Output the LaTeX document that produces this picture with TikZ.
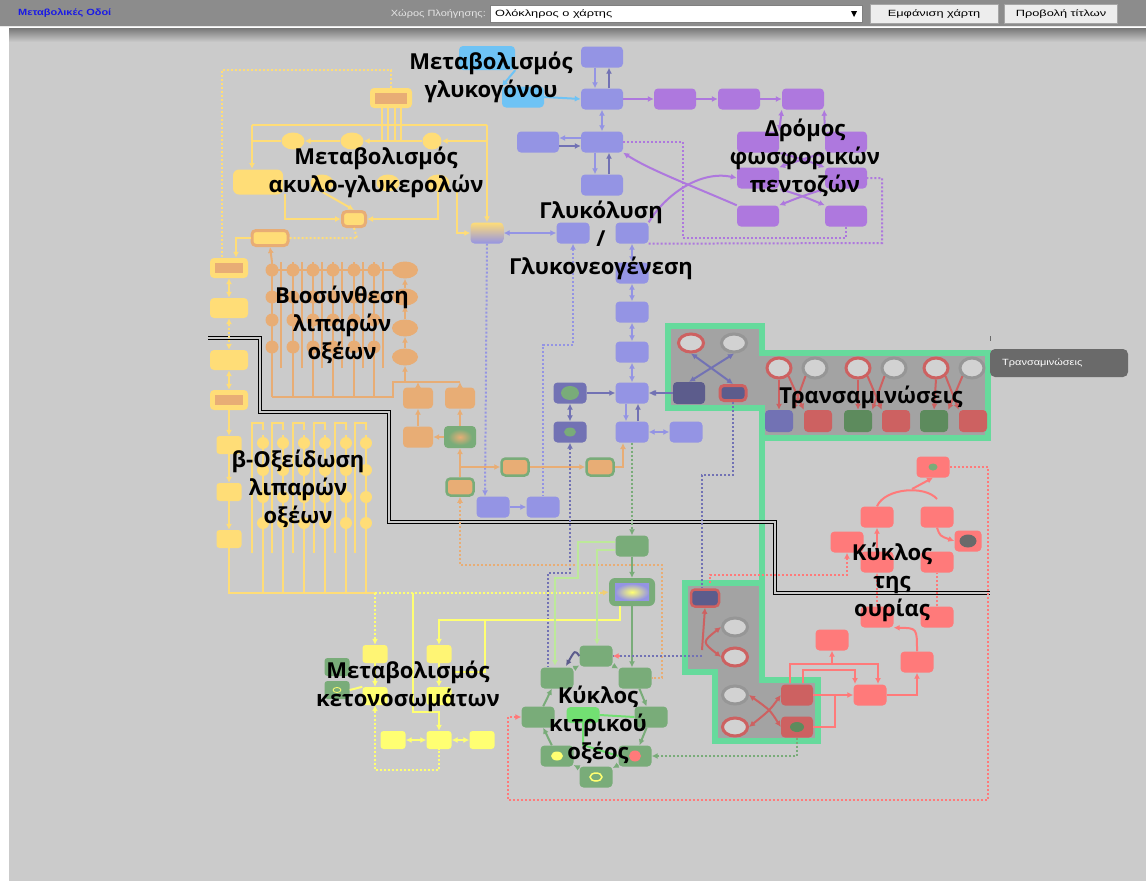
\documentclass[tikz,border=0pt]{standalone}
\usepackage{fontspec}
\setmainfont{Liberation Sans}
\newfontfamily\lblfont{Open Sans}
\newfontfamily\barfont{Liberation Sans}[FakeStretch=1.22]
\newfontfamily\btnfont{Liberation Sans}[FakeStretch=1.42]
\usetikzlibrary{arrows.meta,shapes.geometric}

\definecolor{bgray}{HTML}{CBCBCB}
\definecolor{barc}{HTML}{8C8C8C}
\definecolor{navc}{HTML}{1A1AE6}
\definecolor{gblue}{HTML}{9494E4}
\definecolor{dblue}{HTML}{7272B4}
\definecolor{nblue}{HTML}{5C5C8C}
\definecolor{purp}{HTML}{AE78DE}
\definecolor{skyc}{HTML}{6EC3F5}
\definecolor{fyel}{HTML}{FFDD77}
\definecolor{forg}{HTML}{E8AD75}
\definecolor{grn}{HTML}{79AC79}
\definecolor{lgrn}{HTML}{BDE99A}
\definecolor{brgrn}{HTML}{72E072}
\definecolor{redc}{HTML}{FF7A7A}
\definecolor{dred}{HTML}{CD6161}
\definecolor{kyel}{HTML}{FFFF72}
\definecolor{tgrn}{HTML}{66DA9C}
\definecolor{rgray}{HTML}{A3A3A3}
\definecolor{cgray}{HTML}{D2D2D2}
\definecolor{ringg}{HTML}{969696}
\definecolor{dgrn}{HTML}{5D8B5D}
\definecolor{tipc}{HTML}{6A6A6A}

\tikzset{
  box/.style={rounded corners=4pt, minimum width=42pt, minimum height=21pt, inner sep=0pt},
  sbox/.style={box, minimum width=33pt, minimum height=21pt},
  kbox/.style={box, minimum width=25pt, minimum height=18pt, rounded corners=3pt},
  ell/.style={ellipse, inner sep=0pt, minimum width=23pt, minimum height=17pt},
  dotc/.style={circle, inner sep=0pt, minimum size=13pt},
  ring/.style={ellipse, inner sep=0pt, minimum width=25pt, minimum height=18pt, fill=cgray, line width=3pt},
  wire/.style={line width=2pt},
  arr/.style={-{Latex[length=6pt,width=6pt]}},
  darr/.style={{Latex[length=6pt,width=6pt]}-{Latex[length=6pt,width=6pt]}},
  rarr/.style={{Latex[length=6pt,width=6pt]}-},
  dotline/.style={dash pattern=on 2pt off 2pt},
  lbl/.style={font=\lblfont\bfseries\fontsize{22}{28}\selectfont, align=center, text=black, inner sep=0pt},
  barfnt/.style={font=\barfont\fontsize{9}{10}\selectfont, inner sep=0pt},
  btnfnt/.style={font=\btnfont\fontsize{9}{10}\selectfont, inner sep=0pt},
}

\begin{document}
\begin{tikzpicture}[x=1pt,y=-1pt]
\useasboundingbox (0,0) rectangle (1146,881);

% background
\fill[white] (0,0) rectangle (1146,881);
\fill[bgray] (9,28) rectangle (1146,881);
\shade[top color=barc!85!black, bottom color=bgray] (9,28) rectangle (1146,42);
\fill[barc] (0,0) rectangle (1146,26);
\draw[white!80!barc, line width=1pt] (0,26.5) -- (1146,26.5);

% top bar
\node[barfnt, anchor=west, text=navc, font=\barfont\bfseries\fontsize{9}{10}\selectfont] (title) at (18,13) {Μεταβολικές Οδοί};
\node[barfnt, anchor=east, text=white!90!black] (navlbl) at (486,14) {Χώρος Πλοήγησης:};
\node[draw=gray, fill=white, minimum width=372pt, minimum height=17pt, inner sep=0pt] (sel) at (676,14) {};
\node[btnfnt, anchor=west] (selt) at (495,14) {Ολόκληρος ο χάρτης};
\fill[black] (851,11) -- (857,11) -- (854,17) -- cycle;
\node[btnfnt, draw=gray!70, fill=white!93!black, minimum width=128pt, minimum height=19pt] (btnmap) at (934,14) {Εμφάνιση χάρτη};
\node[btnfnt, draw=gray!70, fill=white!93!black, minimum width=113pt, minimum height=19pt] (btntit) at (1061,14) {Προβολή τίτλων};

% transaminase areas
\filldraw[fill=rgray, draw=tgrn, line width=6pt] (668,326) -- (762,326) -- (762,353) -- (988,353) -- (988,438) -- (762,438) -- (762,408) -- (668,408) -- cycle;
\draw[tgrn, line width=6pt] (762,438) -- (762,585);
\filldraw[fill=rgray, draw=tgrn, line width=6pt] (685,583) -- (762,583) -- (762,680) -- (818,680) -- (818,741) -- (715,741) -- (715,672) -- (685,672) -- cycle;

% black border line
\draw[black, double=bgray, double distance=1.6pt, line width=0.8pt] (208,338) -- (260,338) -- (260,412) -- (389,412) -- (389,522) -- (775,522) -- (775,593) -- (990,593);

% grids under the circles
\foreach \x in {272,293,313,333,354,374} {
  \draw[forg, wire] (\x,262) -- (\x,397);
  \draw[forg, wire] (\x+9,368) -- (\x+9,262);
}
\draw[forg, wire] (272,397) -- (393,397) -- (393,382) -- (460,382);
\draw[forg, wire] (272,270) -- (393,270);
\foreach \x in {263,283,304,325,346,366} {
  \draw[fyel, wire] (\x,435) -- (\x,593);
  \draw[fyel, wire] (\x-11,553) -- (\x-11,423) -- (\x,423) -- (\x,430);
}
\draw[fyel, wire] (229,548) -- (229,593) -- (375,593);

% glycogen
\node[box, fill=skyc, minimum width=56pt, minimum height=24pt] (gy1) at (487,58) {};
\node[box, fill=skyc, minimum width=42pt] (gy2) at (523,97) {};

% glycolysis
\node[box, fill=gblue] (b1) at (602,57) {};
\node[box, fill=gblue] (b2) at (602,99) {};
\node[box, fill=gblue] (b3) at (602,142) {};
\node[box, fill=gblue] (b4) at (602,185) {};
\node[box, fill=gblue] (b0) at (538,142) {};
\node[sbox, fill=gblue] (g1) at (573,233) {};
\node[sbox, fill=gblue] (g2) at (632,233) {};
\node[sbox, fill=gblue] (g3) at (632,273) {};
\node[sbox, fill=gblue] (g4) at (632,312) {};
\node[sbox, fill=gblue] (g5) at (632,352) {};
\node[sbox, fill=gblue] (g6) at (632,393) {};
\node[sbox, fill=gblue] (g7) at (632,432) {};
\node[sbox, fill=gblue] (g8) at (686,432) {};
\node[sbox, fill=dblue] (d1) at (570,393) {};
\node[ell, fill=grn, minimum width=18pt, minimum height=14pt] (d1in) at (d1) {};
\node[sbox, fill=dblue] (d2) at (570,432) {};
\node[ell, fill=grn, minimum width=12pt, minimum height=9pt] (d2in) at (d2) {};
\node[sbox, fill=gblue] (l1) at (493,507) {};
\node[sbox, fill=gblue] (l2) at (543,507) {};
\node[sbox, top color=fyel, bottom color=gblue] (mx) at (487,233) {};

% pentose phosphate
\node[box, fill=purp] (p1) at (675,99) {};
\node[box, fill=purp] (p2) at (739,99) {};
\node[box, fill=purp] (p3) at (803,99) {};
\node[box, fill=purp] (p4) at (758,142) {};
\node[box, fill=purp] (p5) at (846,142) {};
\node[box, fill=purp] (p6) at (758,178) {};
\node[box, fill=purp] (p7) at (846,178) {};
\node[box, fill=purp] (p8) at (758,216) {};
\node[box, fill=purp] (p9) at (846,216) {};

% acyl-glycerol
\node[box, fill=fyel, minimum width=42pt, minimum height=20pt] (a1) at (391,98) {};
\node[fill=forg, minimum width=32pt, minimum height=11pt, inner sep=0pt] (a1in) at (a1) {};
\node[ell, fill=fyel] (e1) at (293,141) {};
\node[ell, fill=fyel] (e2) at (352,141) {};
\node[ell, fill=fyel, minimum width=19pt] (e3) at (432,141) {};
\node[ell, fill=fyel] (e4) at (322,183) {};
\node[ell, fill=fyel] (e5) at (388,183) {};
\node[ell, fill=fyel] (e6) at (438,183) {};
\node[box, fill=fyel, minimum width=50pt, minimum height=25pt, rounded corners=6pt] (a2) at (258,182) {};
\node[box, fill=fyel, draw=forg, line width=3pt, minimum width=23pt, minimum height=15pt] (a3) at (354,219) {};
\node[box, fill=fyel, draw=forg, line width=3pt, minimum width=36pt, minimum height=15pt] (a4) at (270,238) {};

% fatty acid column
\node[box, fill=fyel, minimum width=38pt, minimum height=20pt] (f1) at (229,268) {};
\node[fill=forg, minimum width=28pt, minimum height=10pt, inner sep=0pt] (f1in) at (f1) {};
\node[box, fill=fyel, minimum width=38pt, minimum height=20pt] (f2) at (229,308) {};
\node[box, fill=fyel, minimum width=38pt, minimum height=20pt] (f3) at (229,360) {};
\node[box, fill=fyel, minimum width=38pt, minimum height=20pt] (f4) at (229,400) {};
\node[fill=forg, minimum width=28pt, minimum height=10pt, inner sep=0pt] (f4in) at (f4) {};
\node[kbox, fill=fyel] (f5) at (229,445) {};
\node[kbox, fill=fyel] (f6) at (229,492) {};
\node[kbox, fill=fyel] (f7) at (229,539) {};

% fatty acid synthesis
\foreach \x in {272,293,313,333,354,374}
  \foreach \y in {270,297,320,347}
    \node[dotc, fill=forg] at (\x,\y) {};
\foreach \y [count=\i] in {270,297,328,357}
  \node[ell, fill=forg, minimum width=26pt, minimum height=17pt] (s\i) at (405,\y) {};
\node[box, fill=forg, minimum width=30pt] (o1) at (418,398) {};
\node[box, fill=forg, minimum width=30pt] (o2) at (460,398) {};
\node[box, fill=forg, minimum width=30pt] (o3) at (418,437) {};
\node[box, fill=grn, minimum width=32pt, minimum height=22pt] (o4) at (460,437) {};
\node[inner sep=0pt, minimum width=24pt, minimum height=16pt, inner color=forg, outer color=grn] (o4in) at (o4) {};
\node[box, fill=forg, draw=grn, line width=2.5pt, minimum width=27pt, minimum height=17pt] (o5) at (460,487) {};
\node[box, fill=forg, draw=grn, line width=2.5pt, minimum width=27pt, minimum height=17pt] (o6) at (515,467) {};
\node[box, fill=forg, draw=grn, line width=2.5pt, minimum width=27pt, minimum height=17pt] (o7) at (600,467) {};

% beta oxidation circles
\foreach \x in {263,283,304,325,346,366}
  \foreach \y in {443,470,497,523}
    \node[dotc, fill=fyel, minimum size=12pt] at (\x,\y) {};

% ketone bodies
\node[kbox, fill=kyel!70!fyel] (k1) at (375,654) {};
\node[kbox, fill=kyel!70!fyel] (k2) at (439,654) {};
\node[kbox, fill=kyel] (k3) at (375,696) {};
\node[kbox, fill=kyel] (k4) at (439,696) {};
\node[kbox, fill=kyel] (k5) at (393,740) {};
\node[kbox, fill=kyel] (k6) at (439,740) {};
\node[kbox, fill=kyel] (k7) at (482,740) {};
\node[kbox, fill=grn] (kg1) at (337,667) {};
\node[kbox, fill=grn] (kg2) at (337,690) {};
\node[ell, draw=kyel, line width=0.8pt, minimum width=8pt, minimum height=5pt] (kg2in) at (kg2) {};

% citric acid cycle
\node[sbox, fill=grn] (t1) at (632,546) {};
\node[box, fill=grn, minimum width=46pt, minimum height=28pt, rounded corners=6pt] (t2) at (632,592) {};
\node[inner sep=0pt, minimum width=34pt, minimum height=17pt, inner color=kyel, outer color=gblue] (t2in) at (t2) {};
\node[sbox, fill=grn] (t3) at (596,656) {};
\node[sbox, fill=grn] (t4) at (557,678) {};
\node[sbox, fill=grn] (t5) at (635,678) {};
\node[sbox, fill=grn] (t6) at (538,717) {};
\node[sbox, fill=grn] (t7) at (651,717) {};
\node[sbox, fill=brgrn, minimum height=16pt] (t8) at (583,715) {};
\node[sbox, fill=grn] (t9) at (557,756) {};
\node[ell, fill=kyel, minimum width=12pt, minimum height=9pt] (t9in) at (t9) {};
\node[sbox, fill=grn] (t10) at (635,756) {};
\node[ell, fill=redc, minimum width=12pt, minimum height=11pt] (t10in) at (t10) {};
\node[sbox, fill=grn] (t11) at (596,777) {};
\node[ell, draw=kyel, line width=1.5pt, minimum width=12pt, minimum height=8pt] (t11in) at (t11) {};

% transaminases
\node[ring, draw=dred] (rc1) at (691,343) {};
\node[ring, draw=ringg] (rc2) at (734,343) {};
\node[box, fill=nblue, minimum width=32pt, minimum height=22pt] (rb1) at (689,393) {};
\node[box, fill=nblue, draw=dred, line width=3pt, minimum width=26pt, minimum height=15pt] (rb2) at (733,393) {};
\foreach \x/\c [count=\i] in {779/dred,815/ringg,858/dred,894/ringg,936/dred,972/ringg}
  \node[ring, draw=\c, minimum width=24pt, minimum height=20pt] (rr\i) at (\x,368) {};
\foreach \x/\c [count=\i] in {779/dblue,818/dred,858/dgrn,896/dred,934/dgrn,973/dred}
  \node[box, fill=\c, minimum width=28pt, minimum height=22pt] (rq\i) at (\x,421) {};
\node[box, fill=nblue, draw=dred, line width=2.5pt, minimum width=28pt, minimum height=17pt] (xb1) at (705,598) {};
\node[ring, draw=ringg] (xc1) at (735,627) {};
\node[ring, draw=dred] (xc2) at (735,657) {};
\node[ring, draw=ringg] (xc3) at (735,695) {};
\node[ring, draw=dred] (xc4) at (735,727) {};
\node[box, fill=dred, minimum width=32pt] (xb2) at (797,695) {};
\node[box, fill=dred, minimum width=32pt] (xb3) at (797,727) {};
\node[ell, fill=dgrn, minimum width=14pt, minimum height=10pt] (xb3in) at (xb3) {};

% urea cycle
\node[sbox, fill=redc] (u1) at (933,467) {};
\node[ell, fill=grn, minimum width=9pt, minimum height=7pt] (u1in) at (u1) {};
\node[sbox, fill=redc] (u2) at (877,517) {};
\node[sbox, fill=redc] (u3) at (937,517) {};
\node[sbox, fill=redc] (u4) at (847,542) {};
\node[sbox, fill=redc, minimum width=27pt] (u5) at (968,541) {};
\node[ell, fill=tipc, minimum width=17pt, minimum height=13pt] (u5in) at (u5) {};
\node[sbox, fill=redc] (u6) at (877,562) {};
\node[sbox, fill=redc] (u7) at (937,562) {};
\node[sbox, fill=redc] (u8) at (877,617) {};
\node[sbox, fill=redc] (u9) at (937,617) {};
\node[sbox, fill=redc] (u10) at (832,640) {};
\node[sbox, fill=redc] (u11) at (917,662) {};
\node[sbox, fill=redc] (u12) at (870,695) {};

% glycogen and glycolysis arrows
\draw[skyc, wire, arr] (gy2.east) -- (b2.west);
\draw[skyc, wire, arr] (gy1.south east) -- (gy2.north west);
\draw[gblue, wire, arr] ([xshift=-7pt]b1.south) -- ([xshift=-7pt]b2.north);
\draw[dblue, wire, arr] ([xshift=7pt]b2.north) -- ([xshift=7pt]b1.south);
\draw[gblue, wire, darr] (b2) -- (b3);
\draw[gblue, wire, arr] ([yshift=4pt]b3.west) -- ([yshift=4pt]b0.east);
\draw[dblue, wire, arr] ([yshift=-4pt]b0.east) -- ([yshift=-4pt]b3.west);
\draw[gblue, wire, arr] ([xshift=-7pt]b3.south) -- ([xshift=-7pt]b4.north);
\draw[dblue, wire, arr] ([xshift=7pt]b4.north) -- ([xshift=7pt]b3.south);
\draw[gblue, wire, darr] (mx) -- (g1);
\draw[gblue, wire, darr] (g2) -- (g3);
\draw[gblue, wire, darr] (g3) -- (g4);
\draw[gblue, wire, darr] (g4) -- (g5);
\draw[gblue, wire, darr] (g5) -- (g6);
\draw[gblue, wire, arr] ([xshift=-6pt]g6.south) -- ([xshift=-6pt]g7.north);
\draw[dblue, wire, arr] ([xshift=6pt]g7.north) -- ([xshift=6pt]g6.south);
\draw[gblue, wire, darr] (g7) -- (g8);
\draw[dblue, wire, arr] (d1) -- (g6);
\draw[dblue, wire, darr] (d1) -- (d2);
\draw[dblue, wire, arr] (rb1) -- (g6);
\draw[gblue, wire, arr] (l1) -- (l2);
\draw[gblue, wire, dotline, arr] (mx.south) -- ([xshift=-8pt]l1.north);
\draw[gblue, wire, dotline, rarr] (g1.south) -- (573,345) -- (543,345) -- (l2.north);
\draw[dblue, wire, dotline, rarr] (d2.south) -- (570,573) -- (548,573) -- (548,667);
\draw[dblue, wire, dotline] (rb2.south) -- (733,475) -- (702,475) -- (702,588);

% pentose phosphate arrows
\draw[purp, wire, arr] (b2) -- (p1);
\draw[purp, wire, arr] (p1) -- (p2);
\draw[purp, wire, arr] (p2) -- (p3);
\draw[purp, wire, darr] (p3.south west) -- (p4.north east);
\draw[purp, wire, darr] (p3.south east) -- (p5.north west);
\draw[purp, wire, arr] (p8.north west) .. controls (690,185) and (650,170) .. (b3.south east);
\draw[purp, wire, arr] (g2.north east) .. controls (665,195) and (700,170) .. (p6.west);
\draw[purp, wire, darr] (p4.south east) .. controls (805,160) .. (p7.north west);
\draw[purp, wire, darr] (p5.south west) .. controls (800,160) .. (p6.north east);
\draw[purp, wire, darr] (p6.south east) .. controls (805,197) .. (p9.north west);
\draw[purp, wire, darr] (p7.south west) .. controls (800,197) .. (p8.north east);
\draw[purp, wire, dotline] (b3.east) -- (683,142) -- (683,238) -- (846,238) -- (p9.south);
\draw[purp, wire, dotline] (g2.south east) -- (882,243) -- (882,178) -- (p7.east);

% acyl-glycerol lines
\draw[fyel, wire, dotline] (a1.north) -- (391,70) -- (222,70) -- (222,258);
\foreach \x in {382,388,395,401}
  \draw[fyel, wire] (\x,108) -- (\x,141);
\draw[fyel, wire] (252,125) -- (487,125);
\draw[fyel, wire, arr] (252,125) -- (252,169);
\draw[fyel, wire, arr] (487,125) -- (mx.north);
\draw[fyel, wire, arr] (487,141) -- (e3.east);
\draw[fyel, wire, arr] (e3) -- (e2);
\draw[fyel, wire, arr] (e2) -- (e1);
\draw[fyel, wire] (e1.west) -- (252,141);
\draw[fyel, wire, arr] (285,194) -- (285,219) -- (a3.west);
\draw[fyel, wire, arr] (438,192) -- (438,219) -- (a3.east);
\draw[fyel, wire, arr] (e4.south) -- (a3.north);
\draw[fyel, wire, arr] (457,192) -- (457,233) -- (mx.west);
\draw[fyel, wire, dotline] (a4.east) -- (357,238) -- (a3.south);
\draw[fyel, wire, arr] (a4.west) -- (236,238) -- ([xshift=7pt]f1.north);
\draw[forg, wire, arr] (272,262) -- (a4.south);
\draw[fyel, wire, darr] (f1) -- (f2);
\draw[fyel, wire, darr, dotline] (f2) -- (f3);
\draw[fyel, wire, darr] (f3) -- (f4);
\draw[fyel, wire, arr] (f4) -- (f5);
\draw[fyel, wire, arr] (f5) -- (f6);
\draw[fyel, wire, arr] (f6) -- (f7);

% fatty acid synthesis arrows
\draw[forg, wire, arr] (405,382) -- (s4);
\draw[forg, wire, arr] (s4) -- (s3);
\draw[forg, wire, arr] (s3) -- (s2);
\draw[forg, wire, arr] (s2) -- (s1);
\draw[forg, wire, arr] (o1.north) -- (418,382);
\draw[forg, wire, arr] (o2.north) -- (460,382);
\draw[forg, wire, arr] (o3) -- (o1);
\draw[forg, wire, arr] (o4) -- (o2);
\draw[forg, wire, arr] (o4) -- (o3);
\draw[forg, wire, arr] (o5) -- (o4);
\draw[forg, wire, arr] (460,467) -- (o6);
\draw[forg, wire, arr] (o6) -- (o7);
\draw[forg, wire, arr] (o7.east) -- (623,467) -- (623,443);
\draw[forg, wire, dotline, rarr] (o5.south) -- (460,565) -- (662,565) -- (662,678) -- (t5.east);

% ketone lines
\draw[kyel, wire, dotline] (375,593) -- (607,593);
\draw[forg!60!kyel, wire, arr] (600,593) -- (t2.west);
\draw[kyel, wire, dotline, arr] (375,593) -- (k1.north);
\draw[kyel, wire, arr] (413,593) -- (413,712) -- (439,712) -- (k6.north);
\draw[kyel, wire, rarr] (k2.north) -- (439,620) -- (620,620) -- (620,606);
\draw[kyel, wire] (485,620) -- (485,672) -- (452,672);
\draw[kyel, wire, arr] (k1) -- (k3);
\draw[kyel, wire, arr] (k2) -- (k4);
\draw[kyel, wire] (kg2.east) -- (k3.north west);
\draw[kyel, wire, darr] (k5) -- (k6);
\draw[kyel, wire, darr] (k6) -- (k7);
\draw[kyel, wire, dotline, rarr] (k3.south) -- (375,770) -- (439,770) -- (k6.south);

% citric acid cycle arrows
\draw[grn, wire, dotline, arr] (g7.south) -- (t1.north);
\draw[grn, wire, arr] (t1) -- (t2);
\draw[grn, wire, arr] (t2.south) -- ([xshift=-3pt]t5.north);
\draw[grn, wire, arr] (t3) -- (t5);
\draw[grn, wire, arr] (t5) -- (t7);
\draw[grn, wire, arr] (t7) -- (t10);
\draw[grn, wire, arr] (t10) -- (t11);
\draw[grn, wire, arr] (t11) -- (t9);
\draw[grn, wire, arr] (t9) -- (t6);
\draw[grn, wire, arr] (t6) -- (t4);
\draw[grn, wire, arr] (t4) -- (t3);
\draw[brgrn, wire] (t8.east) -- (t7.west);
\draw[brgrn, wire] (t8.south) -- (583,745) -- (t10.west);
\draw[lgrn, wire, arr] ([yshift=4pt]t1.west) -- (578,542) -- (578,578) -- (555,578) -- (555,666);
\draw[lgrn, wire, arr] ([yshift=-4pt]t1.west) -- (597,550) -- (597,645);
\draw[nblue, wire, arr] (t3.west) .. controls (575,650) .. (566,666);
\draw[dblue, wire, dotline] (702,656) -- (613,656);
\draw[redc, wire, arr] (620,656) -- (t3.east);

% transaminase arrows
\draw[dblue, wire, darr] (rc1.south) .. controls (712,368) .. (rb2.north);
\draw[dblue, wire, darr] (rc2.south) .. controls (712,368) .. (rb1.north);
\draw[dblue, wire, arr] (rb1.west) -- (650,393);
\foreach \i [evaluate=\i as \j using int(\i+1)] in {1,3,5} {
  \draw[dred, wire, arr] (rr\i.south) -- (rq\i.north);
  \draw[dred, wire, arr] (rr\i.south east) -- (rq\j.north west);
  \draw[dred, wire, arr] (rr\j.south west) -- (rq\i.north east);
}
\draw[dred, wire, arr] (702,650) -- (xb1.south);
\draw[dred, wire, darr] (xc1.west) .. controls (702,642) .. (xc2.west);
\draw[dred, wire, darr] (xc3.east) .. controls (770,710) .. (xb3.west);
\draw[dred, wire, darr] (xc4.east) .. controls (770,710) .. (xb2.west);
\draw[grn, wire, dotline, arr] (xb3.south) -- (797,756) -- (t10.east);

% urea cycle arrows
\draw[redc, wire] (u2.north) .. controls (885,488) and (925,485) .. (937,499);
\draw[redc, wire, arr] (912,489) -- (u1.south);
\draw[redc, wire, arr] (u3.south) .. controls (940,536) .. (u5.west);
\draw[redc, wire, arr] (u6) -- (u2);
\draw[redc, wire, dotline, arr] (u8) -- (u6);
\draw[redc, wire, dotline] (u9) -- (u7);
\draw[redc, wire, arr] (u11.north) .. controls (917,628) .. (u8.south east);
\draw[redc, wire, arr] (u12.east) -- (917,695) -- (u11.south);
\draw[redc, wire, arr] (xb2.east) -- (u12.west);
\draw[redc, wire, arr] (790,683) -- (790,664) -- (878,664) -- (878,684);
\draw[redc, wire, arr] (803,683) -- (803,670) -- (855,670) -- (855,684);
\draw[redc, wire, arr] (832,664) -- (u10.south);
\draw[redc, wire] (xb3.east) -- (835,727) -- (835,695);
\draw[redc, wire, dotline, arr] (710,583) -- (710,575) -- (847,575) -- (u4.south);
\draw[redc, wire, dotline, rarr] (t6.west) -- (508,717) -- (508,800) -- (988,800) -- (988,467) -- (u1.east);

% tooltip
\draw[tipc, line width=1pt] (990,336) -- (990,341);
\node[fill=tipc, rounded corners=5pt, minimum width=138pt, minimum height=28pt, inner sep=0pt] (tip) at (1059,363) {};
\node[barfnt, anchor=west, text=white] (tiptext) at (1002,363) {Τρανσαμινώσεις};

% labels
\node[lbl] (lglyc) at (491,77) {Μεταβολισμός\\γλυκογόνου};
\node[lbl] (lacyl) at (376,172) {Μεταβολισμός\\ακυλο-γλυκερολών};
\node[lbl] (lppp) at (805,158) {Δρόμος\\φωσφορικών\\πεντοζών};
\node[lbl] (lglyco) at (601,240) {Γλυκόλυση\\/\\Γλυκονεογένεση};
\node[lbl] (lfas) at (342,325) {Βιοσύνθεση\\λιπαρών\\οξέων};
\node[lbl] (ltrans) at (871,397) {Τρανσαμινώσεις};
\node[lbl] (lbeta) at (298,489) {β-Οξείδωση\\λιπαρών\\οξέων};
\node[lbl] (lurea) at (892,582) {Κύκλος\\της\\ουρίας};
\node[lbl] (lket) at (408,686) {Μεταβολισμός\\κετονοσωμάτων};
\node[lbl] (ltca) at (598,725) {Κύκλος\\κιτρικού\\οξέος};

\end{tikzpicture}
\end{document}
